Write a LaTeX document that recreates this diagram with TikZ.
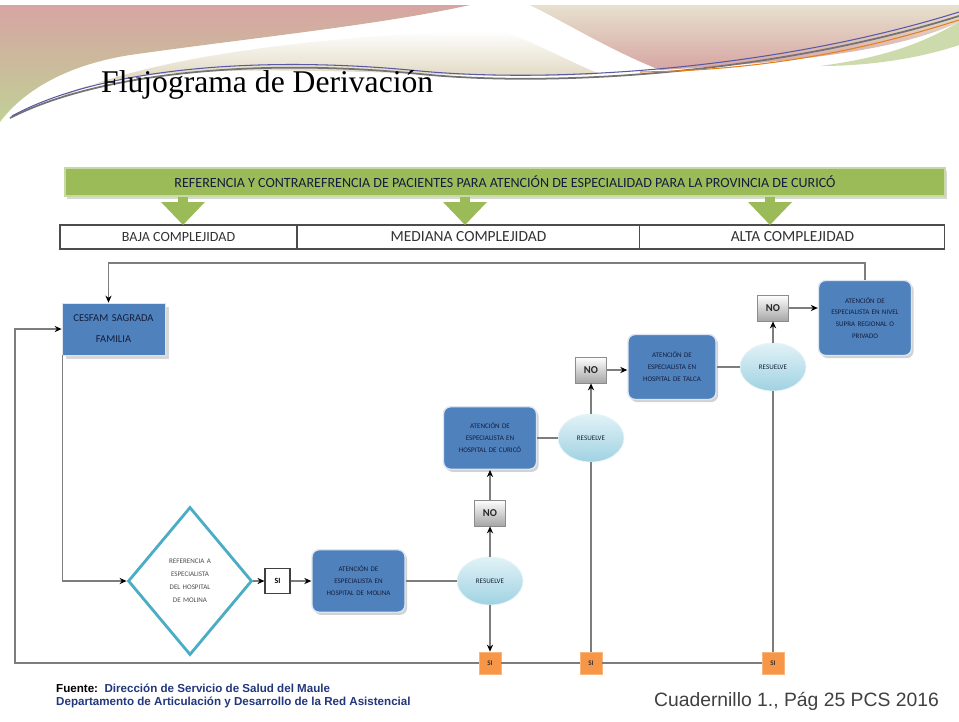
\documentclass[tikz,border=0pt]{standalone}
\usepackage{fontspec}
\setmainfont{Liberation Serif}
\newfontfamily\boxfont{Carlito}
\newfontfamily\footfont{Liberation Sans}
\usetikzlibrary{shapes.geometric,arrows.meta,calc,positioning,shadows}

\definecolor{bargreen}{RGB}{155,187,89}
\definecolor{boxblue}{RGB}{79,129,189}
\definecolor{diamondblue}{RGB}{75,172,198}
\definecolor{siorange}{RGB}{247,150,70}
\definecolor{linegray}{RGB}{125,125,125}
\definecolor{elltop}{RGB}{225,242,247}
\definecolor{ellbot}{RGB}{160,210,226}
\definecolor{bandpink}{RGB}{214,165,162}
\definecolor{bandgreen}{RGB}{192,208,150}
\definecolor{bandtan}{RGB}{212,200,168}
\definecolor{footnavy}{RGB}{35,55,125}
\definecolor{boxtext}{RGB}{20,30,60}

\tikzstyle{titlebar} = [rectangle, minimum width=17.6cm, minimum height=0.56cm, text centered, draw=bargreen!55!white, line width=1pt, fill=bargreen, drop shadow={shadow xshift=1pt, shadow yshift=-1.5pt, opacity=0.3}, font=\boxfont\fontsize{8}{9}\selectfont, text=boxtext]
\tikzstyle{levelcell} = [rectangle, minimum height=0.48cm, inner sep=0pt, outer sep=0pt, draw=black!70, line width=0.6pt, fill=white, font=\boxfont\fontsize{8.8}{10}\selectfont, text=black!80]
\tikzstyle{cesfambox} = [rectangle, minimum width=2.06cm, minimum height=1.04cm, text width=1.9cm, align=center, inner sep=0pt, fill=boxblue, draw=white!80!boxblue, drop shadow={shadow xshift=2pt, shadow yshift=-2pt, opacity=0.3}, font=\boxfont\fontsize{6}{12}\selectfont, text=boxtext]
\tikzstyle{bluebox} = [rectangle, rounded corners=4pt, minimum width=1.86cm, minimum height=1.25cm, text width=1.6cm, align=center, inner sep=0pt, draw=white!80!boxblue, line width=0.8pt, fill=boxblue, drop shadow={shadow xshift=1.2pt, shadow yshift=-1.5pt, opacity=0.35}, font=\boxfont\fontsize{4}{6.8}\selectfont, text=boxtext]
\tikzstyle{decision} = [diamond, minimum width=2.48cm, minimum height=2.96cm, text width=1.1cm, align=center, inner sep=0pt, draw=diamondblue, line width=1.6pt, fill=white, font=\boxfont\fontsize{4}{7.4}\selectfont, text=black!70]
\tikzstyle{resuelve} = [ellipse, minimum width=1.32cm, minimum height=0.96cm, inner sep=0pt, top color=elltop, bottom color=ellbot, draw=white!75!ellbot, font=\boxfont\fontsize{4}{5}\selectfont, text=boxtext]
\tikzstyle{nobox} = [rectangle, minimum width=0.62cm, minimum height=0.52cm, inner sep=0pt, top color=white, bottom color=black!35, draw=black!45, font=\boxfont\bfseries\fontsize{6}{7}\selectfont, text=black!85]
\tikzstyle{sibox} = [rectangle, minimum width=0.5cm, minimum height=0.5cm, inner sep=0pt, fill=white, draw=black!75, line width=0.6pt, font=\boxfont\bfseries\fontsize{4.5}{5}\selectfont]
\tikzstyle{siorange} = [rectangle, minimum width=0.44cm, minimum height=0.44cm, inner sep=0pt, fill=siorange, draw=siorange!70!white, font=\boxfont\bfseries\fontsize{4}{5}\selectfont, text=black!80]
\tikzstyle{arrow} = [linegray, line width=0.9pt, -{Stealth[length=4pt, width=3.5pt, color=black]}]
\tikzstyle{line} = [linegray, line width=0.9pt]
\tikzstyle{bigarrow} = [bargreen, line width=0.2cm, -{Triangle[width=0.85cm, length=0.46cm]}]

\begin{document}
\begin{tikzpicture}[x=0.02cm, y=-0.02cm]
\useasboundingbox (0,0) rectangle (959,721);
\fill[white] (0,0) rectangle (959,721);

% banner
\shade[top color=bandpink, bottom color=bandgreen] (0,5) -- (470,5) .. controls (380,25) and (250,38) .. (130,55) .. controls (60,66) and (20,95) .. (0,122) -- cycle;
\shade[top color=white, bottom color=bandtan] (60,98) .. controls (150,55) and (330,35) .. (500,30) .. controls (540,45) and (570,62) .. (600,74) .. controls (480,82) and (300,62) .. (150,75) .. controls (100,80) and (70,90) .. (60,98) -- cycle;
\shade[top color=bandtan!55!white, bottom color=bandpink] (530,5) -- (959,5) -- (959,22) .. controls (900,50) and (800,62) .. (660,70) .. controls (610,50) and (570,25) .. (530,5) -- cycle;
\fill[bandgreen!80!white] (959,22) .. controls (920,45) and (880,58) .. (820,66) .. controls (880,66) and (930,55) .. (959,45) -- cycle;
\draw[black!55, line width=1pt] (10,118) .. controls (100,72) and (260,58) .. (420,74) .. controls (560,88) and (780,72) .. (959,16);
\draw[blue!30!gray, line width=0.6pt] (12,116) .. controls (100,68) and (260,55) .. (420,71) .. controls (560,84) and (780,68) .. (959,12);
\draw[orange!60!brown, line width=0.6pt] (640,72) .. controls (780,70) and (880,45) .. (959,20);

\node (title) [anchor=base west, font=\fontsize{18}{20}\selectfont] at (95,92) {Flujograma de Derivación};

% header
\node (bar) [titlebar] at (505,182) {REFERENCIA Y CONTRAREFRENCIA DE PACIENTES PARA ATENCIÓN DE ESPECIALIDAD PARA LA PROVINCIA DE CURICÓ};
\node (baja) [levelcell, minimum width=4.74cm, font=\boxfont\fontsize{8}{9}\selectfont] at (178.5,237) {BAJA COMPLEJIDAD};
\node (mediana) [levelcell, minimum width=6.86cm, right=0pt of baja] {MEDIANA COMPLEJIDAD};
\node (alta) [levelcell, minimum width=6.1cm, right=0pt of mediana] {ALTA COMPLEJIDAD};
\coordinate (gbaja) at (183,197);
\coordinate (gmediana) at (465,197);
\coordinate (galta) at (770,197);
\draw [bigarrow] (gbaja) -- (gbaja |- baja.north);
\draw [bigarrow] (gmediana) -- (gmediana |- mediana.north);
\draw [bigarrow] (galta) -- (galta |- alta.north);

% flow
\node (cesfam) [cesfambox] at (113.5,329) {CESFAM SAGRADA\\FAMILIA};
\node (decision) [decision] at (190,581) {REFERENCIA A\\ESPECIALISTA\\DEL HOSPITAL\\DE MOLINA};
\node (si) [sibox] at (277.5,581) {SI};
\node (molina) [bluebox] at (358.5,581) {ATENCIÓN DE\\ESPECIALISTA EN\\HOSPITAL DE MOLINA};
\node (res1) [resuelve] at (490,581) {RESUELVE};
\node (no1) [nobox] at (490,513) {NO};
\node (curico) [bluebox] at (490,438) {ATENCIÓN DE\\ESPECIALISTA EN\\HOSPITAL DE CURICÓ};
\node (res2) [resuelve] at (591,438) {RESUELVE};
\node (no2) [nobox] at (591,370) {NO};
\node (talca) [bluebox, minimum width=1.76cm, minimum height=1.3cm] at (672,367) {ATENCIÓN DE\\ESPECIALISTA EN\\HOSPITAL DE TALCA};
\node (res3) [resuelve] at (773,367) {RESUELVE};
\node (no3) [nobox] at (773,308) {NO};
\node (supra) [bluebox, minimum height=1.5cm] at (865,318) {ATENCIÓN DE\\ESPECIALISTA EN NIVEL\\SUPRA REGIONAL O\\PRIVADO};
%
\node (sio1) [siorange] at (490,663) {SI};
\node (sio2) [siorange] at (591,663) {SI};
\node (sio3) [siorange] at (773,663) {SI};
\coordinate (loopcorner) at (15,663);

\draw [arrow] (supra.north) -- ++(0,-17) -| ([xshift=-0.1cm]cesfam.north);
\draw [arrow] ([xshift=0.5pt]cesfam.south west) |- (decision.west);
\draw [arrow] (decision.east) -- (si.west);
\draw [arrow] (si.east) -- (molina.west);
\draw [line] (molina.east) -- (res1.west);
\draw [arrow] (res1.north) -- (no1.south);
\draw [arrow] (no1.north) -- (curico.south);
\draw [arrow] (res1.south) -- (sio1.north);
\draw [line] (curico.east) -- (res2.west);
\draw [arrow] (res2.north) -- (no2.south);
\draw [line] (res2.south) -- (sio2.north);
\draw [arrow] (no2.east) -- (no2.east -| talca.west);
\draw [line] (talca.east) -- (res3.west);
\draw [arrow] (res3.north) -- (no3.south);
\draw [line] (res3.south) -- (sio3.north);
\draw [arrow] (no3.east) -- (no3.east -| supra.west);
%
\draw [line] (sio3.west) -- (sio2.east);
\draw [line] (sio2.west) -- (sio1.east);
\draw [arrow] (sio1.west) -- (loopcorner) |- (cesfam.west);

% footer
\node (fuente) [anchor=base west, font=\footfont\bfseries\fontsize{6.6}{8}\selectfont] at (50,692) {Fuente:\ \ \textcolor{footnavy}{Dirección de Servicio de Salud del Maule}};
\node (depto) [anchor=base west, font=\footfont\bfseries\fontsize{6.6}{8}\selectfont, text=footnavy] at (50,705) {Departamento de Articulación y Desarrollo de la Red Asistencial};
\node (cuaderno) [anchor=base east, font=\footfont\fontsize{11}{13}\selectfont, text=black!75] at (945,706) {Cuadernillo 1., Pág 25 PCS 2016};

\end{tikzpicture}
\end{document}
